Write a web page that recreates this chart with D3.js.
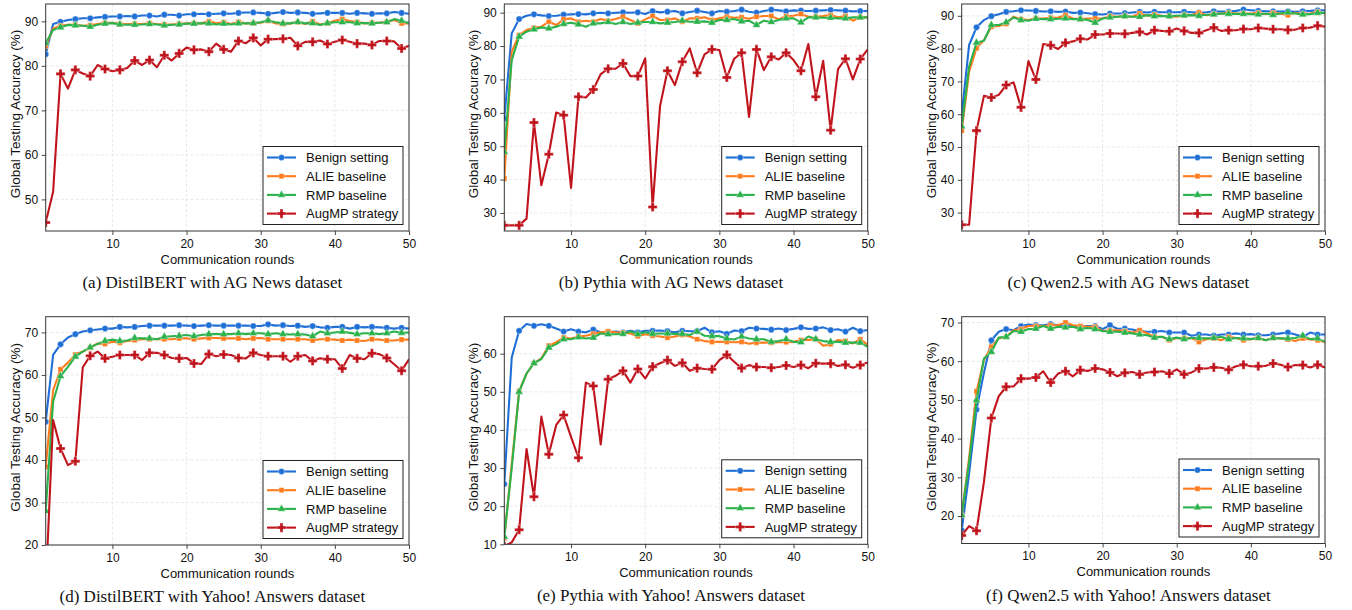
<!DOCTYPE html>
<html><head><meta charset="utf-8">
<script src="https://cdn.jsdelivr.net/npm/d3@7"></script>
<style>body{margin:0;background:#fff} svg{display:block}</style>
</head><body><svg id="chart" width="1352" height="610"></svg>
<script>
// ---------------- DATA ----------------
const rounds = [1,2,3,4,5,6,7,8,9,10,11,12,13,14,15,16,17,18,19,20,21,22,23,24,25,26,27,28,29,30,31,32,33,34,35,36,37,38,39,40,41,42,43,44,45,46,47,48,49,50];
const seriesNames = ["Benign setting","ALIE baseline","RMP baseline","AugMP strategy"];
const captions = [
  "(a) DistilBERT with AG News dataset",
  "(b) Pythia with AG News dataset",
  "(c) Qwen2.5 with AG News dataset",
  "(d) DistilBERT with Yahoo! Answers dataset",
  "(e) Pythia with Yahoo! Answers dataset",
  "(f) Qwen2.5 with Yahoo! Answers dataset"
];
const xTicks = [10,20,30,40,50];
const yTicksA = [50,60,70,80,90];
const yTicksB = [30,40,50,60,70,80,90];
const yTicksC = [30,40,50,60,70,80,90];
const yTicksD = [20,30,40,50,60,70];
const yTicksE = [10,20,30,40,50,60];
const yTicksF = [20,30,40,50,60,70];
const xLabel = "Communication rounds";
const yLabel = "Global Testing Accuracy (%)";

// (a) DistilBERT / AG News
const benignA = [82.6,89.4,89.9,90.3,90.5,90.7,90.7,90.9,91.0,91.1,91.1,91.2,91.1,91.3,91.3,91.1,91.5,91.5,91.3,91.6,91.6,91.7,91.6,91.7,91.8,91.7,91.9,92.0,92.0,91.9,91.7,91.9,92.1,91.9,92.0,91.9,91.7,91.8,91.9,91.9,91.9,91.7,91.9,91.8,91.7,91.8,91.8,92.1,91.9,91.7];
const alieA = [84.4,88.4,89.0,89.25,89.25,89.0,89.1,89.4,89.6,89.7,89.4,89.4,89.4,89.4,89.55,89.4,89.3,89.3,89.4,89.55,89.55,89.55,90.0,89.55,89.8,89.4,89.85,89.55,89.55,89.7,90.1,89.55,89.4,89.55,89.8,89.4,90.0,89.3,89.55,90.15,90.5,90.1,89.85,89.55,89.7,89.7,89.85,90.3,89.55,89.55];
const rmpA = [85.1,88.05,88.65,89.2,89.1,89.0,88.8,89.25,89.5,89.6,89.3,89.25,89.25,89.3,89.4,89.3,89.1,89.25,89.3,89.5,89.5,89.55,89.55,89.3,89.5,89.3,89.55,89.55,89.6,89.8,90.2,89.8,89.55,89.55,89.85,89.55,89.6,89.2,89.6,89.8,89.8,89.8,89.6,89.6,89.55,89.7,89.8,90.5,90.15,89.6];
const augmpA = [44.8,51.7,78.2,74.9,79.1,78.3,77.7,80.2,79.3,78.8,79.1,79.5,81.2,80.2,81.3,79.7,82.4,81.2,82.8,84.1,83.6,83.7,83.2,85.0,83.7,83.2,85.6,85.1,86.3,84.6,86.0,86.0,86.1,86.3,84.5,85.4,85.4,85.7,84.9,85.4,85.8,85.4,85.0,85.0,84.7,85.6,85.6,85.5,83.9,84.5];

// (b) Pythia / AG News
const benignB = [58.3,83.8,88.1,89.1,89.5,89.2,89.0,89.1,89.4,89.5,89.6,89.5,89.8,90.0,89.8,90.0,90.1,90.0,90.1,89.6,90.5,90.1,90.3,90.5,89.8,90.2,90.6,90.2,89.8,90.5,90.3,90.5,90.9,90.3,90.0,90.5,90.9,90.7,90.4,90.7,90.6,90.5,90.6,90.7,90.8,90.7,90.6,90.4,90.5,90.5];
const alieB = [40.3,78.3,83.3,84.8,85.5,85.8,87.3,86.3,88.0,88.3,87.3,87.6,87.3,88.1,87.6,88.1,88.8,87.8,86.8,88.0,89.0,87.8,87.8,88.3,87.3,88.3,88.3,88.6,87.8,88.3,88.8,88.5,88.6,88.2,88.8,89.0,89.0,88.0,89.0,89.1,89.6,88.8,88.8,89.0,89.3,88.6,89.0,87.6,88.6,88.6];
const rmpB = [48.3,75.8,82.8,84.3,85.0,85.6,85.3,85.8,86.6,87.0,86.5,85.8,86.8,86.8,87.2,86.6,87.2,86.6,87.0,87.2,87.2,86.8,87.0,87.2,87.6,87.3,87.3,87.4,87.0,87.8,87.8,88.1,87.4,87.6,86.3,87.6,87.2,87.8,88.3,88.3,87.1,88.6,88.6,88.5,88.5,88.3,88.3,88.6,88.6,88.6];
const augmpB = [26.3,26.3,26.3,28.3,57.1,38.3,47.6,60.1,59.3,37.5,64.8,64.6,67.0,71.6,73.2,73.2,74.8,71.0,71.0,76.3,31.8,62.0,72.6,68.3,75.3,79.3,72.0,77.5,79.0,78.8,70.6,76.2,78.0,58.8,79.0,72.8,76.8,76.0,78.0,75.8,72.6,80.6,64.8,75.6,54.8,73.1,76.2,70.0,76.1,79.0];

// (c) Qwen2.5 / AG News
const benignC = [59.8,81.1,86.5,88.7,89.9,90.5,91.2,91.4,91.7,91.6,91.5,91.3,91.4,91.2,91.3,90.9,91.0,90.8,90.5,90.4,90.7,90.7,90.8,91.0,91.2,91.0,91.2,91.1,91.1,91.1,91.2,91.1,91.0,91.1,91.4,91.3,91.3,91.5,91.9,91.7,91.5,91.4,91.4,91.3,91.4,91.2,91.4,91.5,91.7,91.7];
const alieC = [55.0,73.0,80.1,82.6,86.7,86.9,87.5,89.7,88.9,88.7,89.2,89.2,89.4,89.5,90.2,89.2,89.0,89.2,89.2,89.2,89.9,89.7,89.9,89.7,90.7,90.0,90.4,90.0,89.9,89.7,90.2,90.2,91.0,90.2,90.5,90.7,90.9,90.7,90.7,90.7,90.9,90.5,90.9,90.7,90.2,90.9,90.5,90.7,91.2,90.7];
const rmpC = [56.3,74.5,81.8,82.4,87.2,87.2,88.0,89.5,88.7,88.5,89.1,89.0,89.0,89.1,89.2,89.0,89.0,88.7,87.9,89.2,89.5,89.7,89.9,89.7,89.7,90.2,89.9,89.9,89.9,90.0,90.1,90.2,90.0,90.3,90.4,90.7,90.6,90.6,90.6,90.5,90.4,90.7,90.3,90.7,91.0,90.7,90.4,90.5,90.9,90.9];
const augmpC = [26.3,26.3,55.0,65.6,65.1,65.9,68.9,69.7,62.1,76.2,70.6,81.4,81.0,79.9,81.8,82.2,83.0,82.8,84.3,84.3,84.6,84.6,84.5,84.8,85.1,84.3,85.6,85.4,85.3,86.1,85.4,84.8,84.8,85.6,86.4,85.4,85.6,85.6,86.0,85.9,86.3,86.1,85.9,85.9,85.7,85.8,86.3,86.4,87.0,86.7];

// (d) DistilBERT / Yahoo! Answers
const benignD = [49.0,64.7,67.2,68.8,69.6,70.2,70.5,70.7,70.9,70.9,71.3,71.2,71.3,71.5,71.6,71.6,71.6,71.6,71.7,71.6,71.5,71.6,71.7,71.6,71.6,71.6,71.6,71.6,71.5,71.5,71.9,71.6,71.7,71.5,71.6,71.3,71.5,71.2,71.1,71.3,71.3,70.9,71.3,71.2,71.3,71.2,71.1,70.9,71.1,70.9];
const alieD = [38.4,56.4,61.3,62.9,64.8,65.5,66.4,67.4,67.3,67.8,67.6,68.0,68.2,68.4,68.4,68.4,68.4,68.4,68.6,68.6,68.4,68.6,68.7,68.7,68.6,68.6,68.6,68.4,68.6,68.7,68.4,68.4,68.4,68.4,68.4,68.4,68.1,68.4,68.4,68.3,68.1,68.3,68.1,68.0,68.4,68.3,68.1,68.1,68.3,68.3];
const rmpD = [28.0,53.7,59.7,61.9,64.3,65.5,66.5,67.3,68.0,68.3,68.0,68.1,68.7,68.6,68.6,68.4,69.0,69.1,69.2,69.4,69.1,69.4,69.6,69.6,69.6,69.6,69.8,69.6,69.8,69.8,69.6,69.8,69.6,69.5,69.6,69.5,69.1,70.2,69.8,70.0,70.2,69.9,69.6,69.8,69.8,69.6,69.8,70.2,69.9,70.0];
const augmpD = [10.0,49.4,42.7,38.8,39.7,61.8,64.5,65.5,63.9,64.3,64.7,64.7,64.7,63.5,65.2,65.2,64.7,64.0,63.9,64.0,62.7,62.6,64.9,64.4,64.8,64.7,64.0,63.9,65.2,64.7,64.4,64.4,64.4,63.1,64.4,64.7,63.3,63.9,63.7,63.7,61.5,64.7,63.9,63.7,65.1,64.9,64.0,62.5,61.0,63.7];

// (e) Pythia / Yahoo! Answers
const benignE = [25.8,59.0,66.0,67.8,67.3,67.7,67.3,66.6,65.8,66.4,65.8,65.6,66.3,65.6,65.6,65.8,65.6,66.0,65.6,66.0,66.0,66.1,65.9,65.6,66.0,65.9,65.9,66.8,65.6,65.9,65.2,66.1,65.9,66.8,66.6,66.5,66.3,66.6,66.2,66.5,66.9,66.5,66.6,66.9,66.2,66.4,65.8,66.8,65.9,66.2];
const alieE = [11.6,31.0,50.2,54.8,57.5,58.8,62.1,63.0,64.2,64.0,64.5,64.7,65.2,65.6,65.9,65.6,65.5,65.3,64.6,65.1,64.7,64.5,64.2,64.5,64.9,64.5,63.8,63.3,63.1,63.1,63.1,63.0,63.1,62.6,62.9,62.9,62.9,63.0,63.0,63.1,63.6,63.6,63.8,62.1,62.5,63.6,63.3,62.7,63.8,62.3];
const rmpE = [12.0,30.0,50.0,54.8,57.5,58.6,61.6,62.5,63.8,63.8,64.3,64.0,64.2,65.3,65.1,65.1,65.2,65.8,65.1,65.6,65.2,65.3,65.3,65.2,65.2,64.9,65.8,64.7,64.6,64.6,64.0,63.7,64.5,64.0,63.8,63.8,63.1,63.3,63.8,63.1,63.0,64.5,63.8,63.3,63.1,63.1,62.9,62.9,62.9,61.8];
const augmpE = [9.5,10.5,13.8,35.0,22.5,43.5,33.6,41.3,43.9,38.2,32.7,52.4,51.5,36.2,53.3,54.2,55.5,52.4,56.0,53.5,56.6,57.5,58.3,56.8,57.6,55.5,56.2,56.0,55.9,58.3,59.7,57.9,56.2,57.0,56.5,56.5,56.3,56.5,56.9,56.5,57.0,56.2,57.5,57.4,57.4,56.8,57.1,56.3,57.0,57.7];

// (f) Qwen2.5 / Yahoo! Answers
const benignF = [16.3,31.0,47.5,57.0,65.4,67.6,68.3,68.0,69.1,69.5,69.3,69.3,69.6,69.3,69.5,69.1,68.9,69.1,69.1,68.3,69.3,68.4,68.4,68.2,67.8,67.6,67.6,67.8,67.4,67.4,67.4,66.6,66.9,66.9,66.6,66.9,66.9,67.2,66.9,67.0,66.7,66.7,66.9,67.2,67.4,66.9,66.3,67.4,66.9,66.9];
const alieF = [20.2,35.0,52.2,60.3,63.7,65.9,66.3,68.0,68.3,69.1,69.1,69.1,69.3,69.3,70.0,69.3,69.1,68.9,68.9,67.8,68.0,68.0,67.8,67.4,68.0,67.2,66.3,66.3,65.4,66.0,65.9,66.0,65.0,65.7,65.9,65.4,66.3,66.0,65.4,65.7,66.0,65.4,66.0,65.9,65.6,65.2,65.9,65.6,65.4,65.0];
const rmpF = [20.2,34.0,49.9,60.7,62.4,66.1,66.3,67.8,67.6,68.3,68.4,69.1,68.4,68.9,68.7,68.9,68.3,68.6,68.3,67.8,67.6,67.6,67.4,67.2,66.9,66.7,66.1,66.3,65.7,66.1,65.7,66.0,66.0,65.9,66.0,66.3,65.7,66.0,65.9,65.7,66.0,65.4,66.0,65.9,65.9,66.0,66.6,65.7,65.9,65.0];
const augmpF = [15.0,17.4,16.2,28.8,45.3,51.0,53.4,53.5,55.5,55.5,55.8,57.4,54.5,56.8,57.4,56.1,57.7,57.5,58.1,57.9,57.1,56.1,57.0,57.2,56.6,57.1,57.2,57.4,56.8,57.9,56.6,57.1,58.1,58.1,58.4,58.3,57.8,58.7,59.1,58.7,58.7,58.8,59.4,59.1,58.5,59.0,59.0,58.4,59.1,58.4];

// ---------------- LAYOUT / STYLE ----------------
const colors = ["#1f6fd6","#ff7b1c","#2bb24c","#c0141c"];
const symbols = [d3.symbolCircle, d3.symbolSquare, d3.symbolTriangle, d3.symbolCross];
const symSizes = [30, 26, 28, 46];

const panels = [
  {series:[benignA,alieA,rmpA,augmpA], yTicks:yTicksA, yDom:[42.9,93.9], L:45.7, R:409, T:4, B:231, cap:captions[0]},
  {series:[benignB,alieB,rmpB,augmpB], yTicks:yTicksB, yDom:[24.6,92.6], L:504.3, R:867.7, T:4, B:231, cap:captions[1]},
  {series:[benignC,alieC,rmpC,augmpC], yTicks:yTicksC, yDom:[24.4,93.6], L:961.7, R:1325, T:4, B:231, cap:captions[2]},
  {series:[benignD,alieD,rmpD,augmpD], yTicks:yTicksD, yDom:[20,73.7], L:45.7, R:409, T:316.7, B:545, cap:captions[3]},
  {series:[benignE,alieE,rmpE,augmpE], yTicks:yTicksE, yDom:[10,69.7], L:504.3, R:867.7, T:316.7, B:544.3, cap:captions[4]},
  {series:[benignF,alieF,rmpF,augmpF], yTicks:yTicksF, yDom:[12.9,71.5], L:961.7, R:1325, T:316.7, B:543.5, cap:captions[5]}
];

const svg = d3.select("#chart");
svg.append("rect").attr("width",1352).attr("height",610).attr("fill","#fff");
const sans = "'Liberation Sans', Arial, Helvetica, sans-serif";
const serif = "'Liberation Serif', 'Times New Roman', serif";

panels.forEach((p, pi) => {
  const x = d3.scaleLinear().domain([1,50]).range([p.L, p.R]);
  const y = d3.scaleLinear().domain(p.yDom).range([p.B, p.T]);
  const g = svg.append("g");

  // grid
  const grid = g.append("g").attr("stroke","#e3e3e3").attr("stroke-width",0.8).attr("stroke-dasharray","3,2");
  xTicks.forEach(t => grid.append("line").attr("x1",x(t)).attr("x2",x(t)).attr("y1",p.T).attr("y2",p.B));
  p.yTicks.forEach(t => grid.append("line").attr("y1",y(t)).attr("y2",y(t)).attr("x1",p.L).attr("x2",p.R));

  // clip
  const cid = "clip"+pi;
  svg.append("defs").append("clipPath").attr("id",cid).append("rect")
    .attr("x",p.L).attr("y",p.T).attr("width",p.R-p.L).attr("height",p.B-p.T);
  const plot = g.append("g").attr("clip-path",`url(#${cid})`);

  const line = d3.line().x((d,i)=>x(rounds[i])).y(d=>y(d));
  p.series.forEach((vals, si) => {
    plot.append("path").datum(vals).attr("d",line).attr("fill","none")
      .attr("stroke",colors[si]).attr("stroke-width",2.1).attr("stroke-linejoin","round");
    const sym = d3.symbol().type(symbols[si]).size(symSizes[si]);
    plot.append("g").selectAll("path").data(vals.map((v,i)=>({v,i})).filter(d=>d.i%2===0))
      .join("path").attr("d",sym)
      .attr("transform",d=>`translate(${x(rounds[d.i])},${y(d.v)})`)
      .attr("fill",colors[si]).attr("stroke","#fff").attr("stroke-width",0.5).attr("stroke-opacity",0.7);
  });

  // axes
  const xa = g.append("g").attr("transform",`translate(0,${p.B})`)
    .call(d3.axisBottom(x).tickValues(xTicks).tickSize(4).tickPadding(4));
  const ya = g.append("g").attr("transform",`translate(${p.L},0)`)
    .call(d3.axisLeft(y).tickValues(p.yTicks).tickSize(4).tickPadding(3.5));
  [xa,ya].forEach(a=>{
    a.select(".domain").remove();
    a.selectAll("line").attr("stroke","#333").attr("stroke-width",0.9);
    a.selectAll("text").attr("font-family",sans).attr("font-size",12).attr("fill","#111");
  });

  // frame
  g.append("rect").attr("x",p.L).attr("y",p.T).attr("width",p.R-p.L).attr("height",p.B-p.T)
    .attr("fill","none").attr("stroke","#333").attr("stroke-width",1);

  // axis labels
  g.append("text").attr("x",(p.L+p.R)/2).attr("y",p.B+32.5).attr("text-anchor","middle")
    .attr("font-family",sans).attr("font-size",13).attr("fill","#111").text(xLabel);
  const yc = (p.T+p.B)/2 - 3.5;
  g.append("text").attr("transform",`translate(${p.L-26},${yc}) rotate(-90)`)
    .attr("text-anchor","middle").attr("font-family",sans).attr("font-size",13.5).attr("fill","#111").text(yLabel);

  // caption
  g.append("text").attr("x",(p.L+p.R)/2-15).attr("y",p.B+57).attr("text-anchor","middle")
    .attr("font-family",serif).attr("font-size",17).attr("fill","#111").text(p.cap);

  // legend
  const lw = 140, lh = 78;
  const lx = p.R - 6 - lw, ly = p.B - 6.5 - lh;
  const lg = g.append("g");
  lg.append("rect").attr("x",lx).attr("y",ly).attr("width",lw).attr("height",lh)
    .attr("fill","#fff").attr("stroke","#222").attr("stroke-width",1);
  seriesNames.forEach((name, si) => {
    const cy = ly + 11 + si*18.7;
    lg.append("line").attr("x1",lx+4).attr("x2",lx+33).attr("y1",cy).attr("y2",cy)
      .attr("stroke",colors[si]).attr("stroke-width",2.1);
    lg.append("path").attr("d",d3.symbol().type(symbols[si]).size(symSizes[si]))
      .attr("transform",`translate(${lx+18.5},${cy})`).attr("fill",colors[si])
      .attr("stroke","#fff").attr("stroke-width",0.5).attr("stroke-opacity",0.7);
    lg.append("text").attr("x",lx+43).attr("y",cy).attr("dy","0.36em")
      .attr("font-family",sans).attr("font-size",13).attr("fill","#111").text(name);
  });
});
</script>
</body></html>
